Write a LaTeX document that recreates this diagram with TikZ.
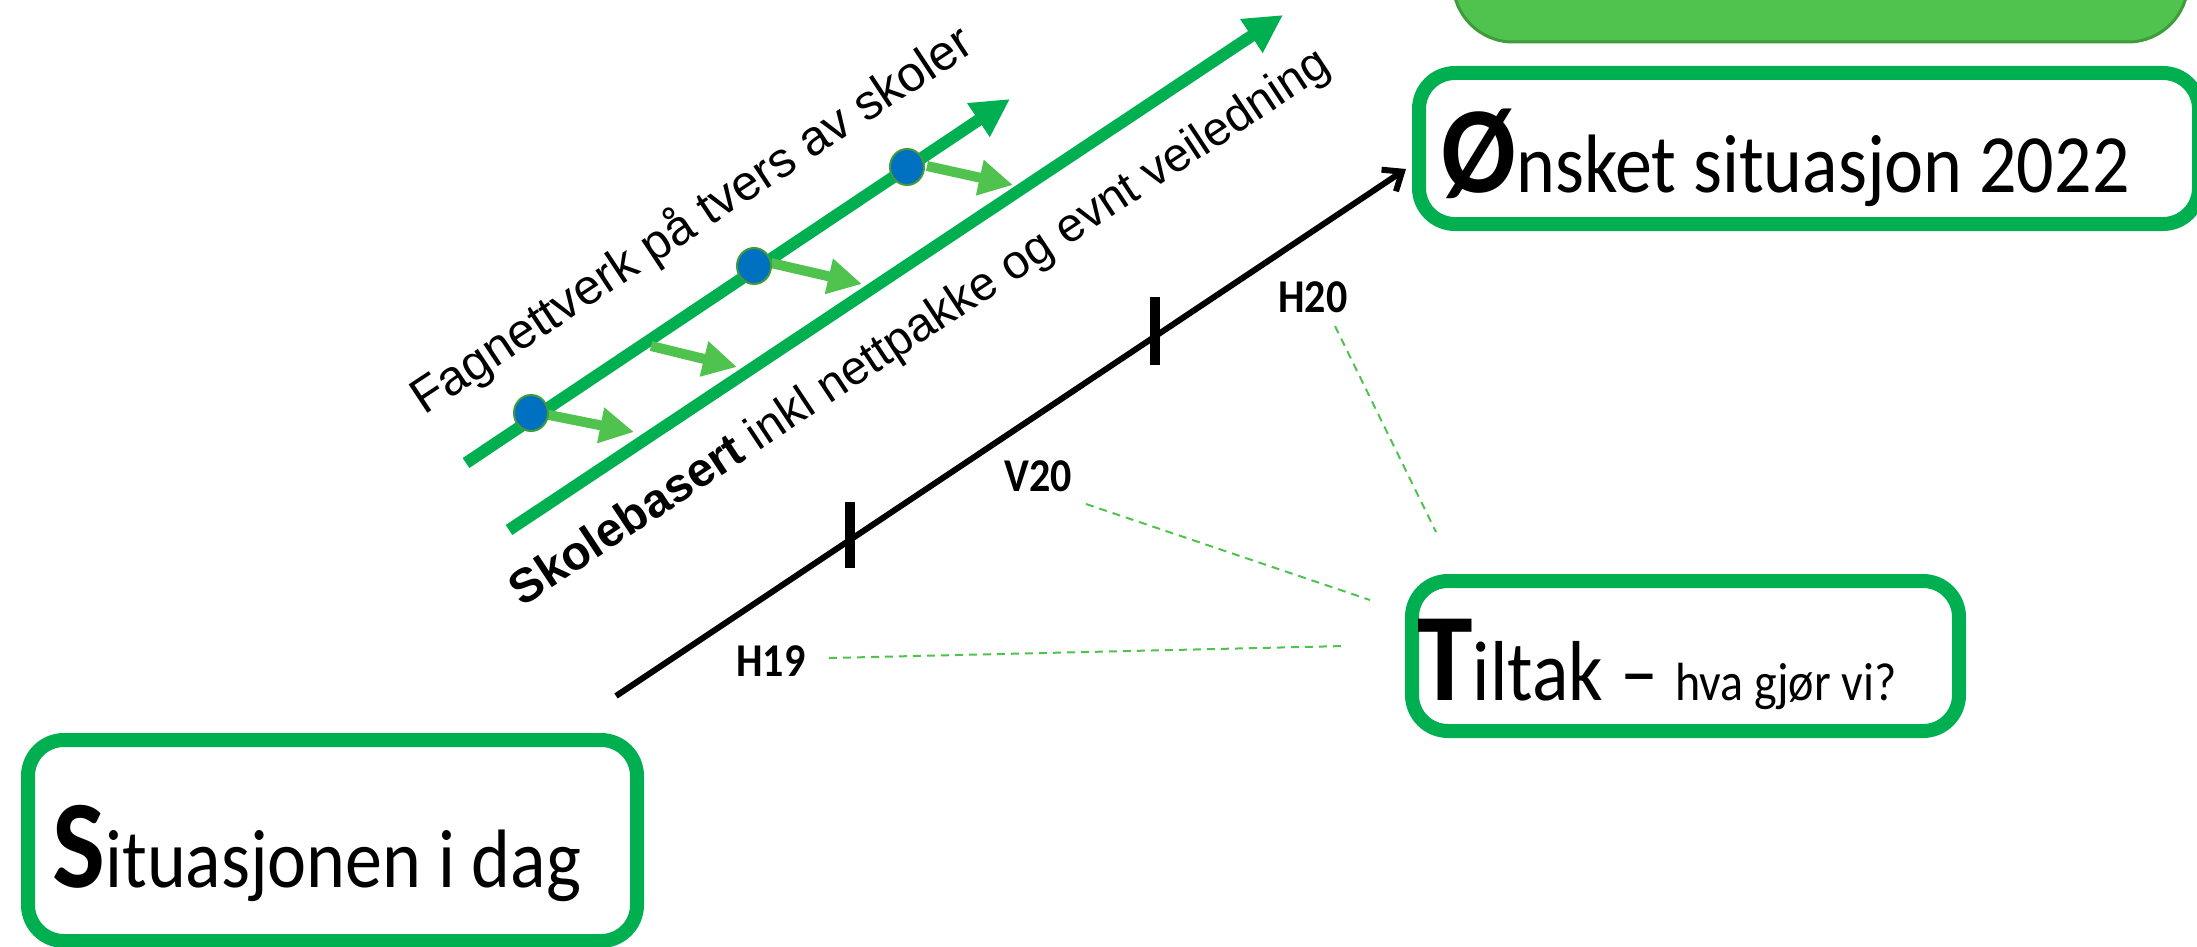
\documentclass[tikz,border=0pt]{standalone}
\usepackage{fontspec}
\setmainfont{Carlito}
\newfontfamily\arialf{Liberation Sans}
\usetikzlibrary{arrows.meta,shapes.geometric}
\definecolor{boxgreen}{HTML}{00B050}
\definecolor{lightgreen}{HTML}{50C24E}
\definecolor{darkedge}{HTML}{3F9B3B}
\definecolor{dotblue}{HTML}{0070C0}
\tikzset{
  gbox/.style={draw=boxgreen, line width=7pt, rounded corners=18pt, fill=white},
  bigline/.style={draw=boxgreen, line width=6pt, -{Triangle[length=19pt,width=19pt]}},
  smallarrow/.style={draw=lightgreen, line width=5pt, -{Triangle[length=17pt,width=17pt]}},
  bluedot/.style={ellipse, fill=dotblue, draw=darkedge, line width=1pt, minimum width=17pt, minimum height=18pt, inner sep=0pt},
  ticklbl/.style={font=\bfseries\fontsize{21}{24}\selectfont, inner sep=0pt, yscale=1.12},
  dashlink/.style={draw=lightgreen, line width=1pt, dash pattern=on 4pt off 3pt},
  tickmark/.style={draw=black, line width=5pt},
  rottext/.style={rotate=33.5, inner sep=0pt},
  boxtext/.style={anchor=base west, inner sep=0pt, yscale=1.12}
}
\begin{document}
\begin{tikzpicture}[x=0.5pt,y=-0.5pt]
\useasboundingbox (0,0) rectangle (2197,947);
\begin{scope}
\clip (0,0) rectangle (2197,947);
% top green shape
\draw[fill=lightgreen, draw=darkedge, line width=1.5pt, rounded corners=30pt] (1453,-80) rectangle (2188,42);
\node[gbox, minimum width=390pt, minimum height=75.5pt, anchor=north west] (onsket) at (1412,66) {};
\end{scope}
\node[gbox, minimum width=273.5pt, minimum height=75pt, anchor=north west] (tiltak) at (1405,574) {};
\node[gbox, minimum width=304.5pt, minimum height=100.5pt, anchor=north west] (situ) at (21,733) {};
% texts in boxes
\node[boxtext] (onsketT) at (1441,192) {{\bfseries\fontsize{55}{60}\selectfont Ø}{\fontsize{37}{40}\selectfont nsket situasjon 2022}};
\node[boxtext] (situT) at (52,887) {{\bfseries\fontsize{56}{64}\selectfont S}{\fontsize{37}{40}\selectfont ituasjonen i dag}};
\node[boxtext] (tiltakT) at (1417,700) {{\bfseries\fontsize{56}{64}\selectfont T}{\fontsize{38}{40}\selectfont iltak – }{\fontsize{24}{26}\selectfont hva gjør vi?}};
% black timeline arrow
\coordinate (tstart) at (616,696);
\coordinate (tend) at (1406,169);
\draw[line width=3pt, -{Straight Barb[length=8pt,width=13pt,line width=3pt]}] (tstart) -- (tend);
\coordinate (tk1) at (850,540);
\coordinate (tk2) at (1155,337);
\draw[tickmark] ([yshift=19pt]tk1) -- ([yshift=-14pt]tk1);
\draw[tickmark] ([yshift=20pt]tk2) -- ([yshift=-14pt]tk2);
% labels
\node[ticklbl] (h19) at (771,661) {H19};
\node[ticklbl] (v20) at (1038,476) {V20};
\node[ticklbl] (h20) at (1313,297) {H20};
\coordinate (h19a) at (829,658);
\coordinate (v20a) at (1086,504);
\coordinate (h20a) at (1335,326);
\coordinate (h19b) at (1345,646);
\coordinate (v20b) at (1370,600);
\coordinate (h20b) at (1436,532);
\draw[dashlink] (h19a) -- (h19b);
\draw[dashlink] (v20a) -- (v20b);
\draw[dashlink] (h20a) -- (h20b);
% green lines
\coordinate (g1s) at (466,463);
\coordinate (g1e) at (1010,99);
\coordinate (g2s) at (509,530);
\coordinate (g2e) at (1283,15);
\draw[bigline] (g1s) -- (g1e);
\draw[bigline] (g2s) -- (g2e);
% small arrows
\coordinate (a1s) at (544,414); \coordinate (a1e) at (634,432);
\coordinate (a2s) at (651,346); \coordinate (a2e) at (737,367);
\coordinate (a3s) at (771,263); \coordinate (a3e) at (862,284);
\coordinate (a4s) at (927,166); \coordinate (a4e) at (1013,185);
\draw[smallarrow] (a1s) -- (a1e);
\draw[smallarrow] (a2s) -- (a2e);
\draw[smallarrow] (a3s) -- (a3e);
\draw[smallarrow] (a4s) -- (a4e);
% blue dots
\node[bluedot] (d1) at (531,413) {};
\node[bluedot] (d2) at (754,266) {};
\node[bluedot] (d3) at (907,167) {};
% rotated texts
\node[rottext, font=\arialf\fontsize{24.7}{28}\selectfont] (fag) at (692,221) {Fagnettverk på tvers av skoler};
\node[rottext, font=\arialf\fontsize{23.8}{28}\selectfont] (skole) at (921,329) {\textbf{Skolebasert} inkl nettpakke og evnt veiledning};
\end{tikzpicture}
\end{document}
